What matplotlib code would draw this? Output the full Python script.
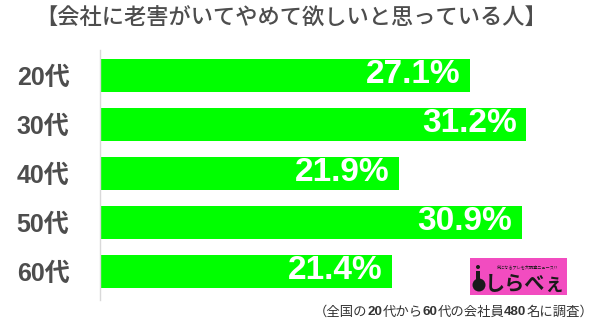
import matplotlib
matplotlib.use("Agg")
import matplotlib.pyplot as plt
import numpy as np
from matplotlib.patches import Rectangle, Ellipse

# ---- data ----
categories = ["20代", "30代", "40代", "50代", "60代"]
values = [27.1, 31.2, 21.9, 30.9, 21.4]
title = "【会社に老害がいてやめて欲しいと思っている人】"
note_parts = [("（全国の", "normal"), ("20", "bold"), ("代から", "normal"),
              ("60", "bold"), ("代の会社員", "normal"), ("480", "bold"),
              ("名に調査）", "normal")]

W, H = 600, 326
fig = plt.figure(figsize=(W / 100, H / 100), dpi=100)
fig.patch.set_facecolor("white")

LATIN = ["Liberation Sans", "Noto Sans CJK JP"]
CJK = ["Noto Sans CJK JP", "DejaVu Sans"]

# plot area in pixel terms
left, right, top, bottom = 100, 600, 50, 300
ax = fig.add_axes([left / W, (H - bottom) / H, (right - left) / W, (bottom - top) / H])

y = np.arange(len(categories))
ax.barh(y, values, height=0.67, color="#00ff00", edgecolor="none", zorder=2)
ax.set_xlim(0, (right - left) / 13.66)
ax.set_ylim(len(categories) - 1 + 0.58, -0.52)

for yi, v in zip(y, values):
    ax.annotate(f"{v:.1f}%", xy=(v, yi), xytext=(-7, 1), textcoords="offset points",
                ha="right", va="center", color="white", fontsize=24,
                fontweight="bold", family=LATIN, zorder=3)

ax.set_yticks(y)
ax.set_yticklabels(categories, fontsize=18, fontweight="bold", color="#4d4d4d",
                   family=LATIN)
ax.tick_params(axis="y", length=0, pad=22)
ax.set_xticks([])
for s in ["top", "right", "bottom"]:
    ax.spines[s].set_visible(False)
ax.spines["left"].set_color("#d9d9d9")
ax.spines["left"].set_linewidth(1.0)

# title
fig.text(0.485, 1 - 18 / H, title, ha="center", va="center", fontsize=16,
         color="#4d4d4d", family=CJK, fontweight="medium")

# footnote with bold numbers, laid out piece by piece
fig.canvas.draw()
renderer = fig.canvas.get_renderer()
x_px = 314
y_fig = 1 - 312 / H
for txt, wt in note_parts:
    fam = LATIN if wt == "bold" else CJK
    t = fig.text(x_px / W, y_fig, txt, ha="left", va="center", fontsize=9.6,
                 fontweight=wt, color="#333333", family=fam)
    bb = t.get_window_extent(renderer=renderer)
    x_px += bb.width

# logo badge
lx0, ly0, lx1, ly1 = 470, 258, 567, 295
fig.patches.append(Rectangle((lx0 / W, 1 - ly1 / H), (lx1 - lx0) / W, (ly1 - ly0) / H,
                             transform=fig.transFigure, facecolor="#f24cc0",
                             edgecolor="none", zorder=5))
fig.patches.append(Ellipse((479 / W, 1 - 285 / H), 13 / W, 13 / H,
                           transform=fig.transFigure, facecolor="#1a1a1a",
                           edgecolor="none", zorder=6))
fig.patches.append(Rectangle((476 / W, 1 - 283 / H), 4 / W, 12 / H,
                             transform=fig.transFigure, facecolor="#1a1a1a",
                             edgecolor="none", zorder=6))
fig.patches.append(Ellipse((478 / W, 1 - 267 / H), 4 / W, 4 / H,
                           transform=fig.transFigure, facecolor="#1a1a1a",
                           edgecolor="none", zorder=6))
fig.text(525 / W, 1 - 283 / H, "しらべぇ", ha="center", va="center", fontsize=14.5,
         fontweight="bold", color="#1a1a1a", family=CJK, zorder=7)
fig.text(527 / W, 1 - 267 / H, "気になるアレを大調査ニュース!?", ha="center",
         va="center", fontsize=3, color="#1a1a1a", family=CJK, zorder=7)

fig.savefig("out.png", dpi=100, facecolor="white")
